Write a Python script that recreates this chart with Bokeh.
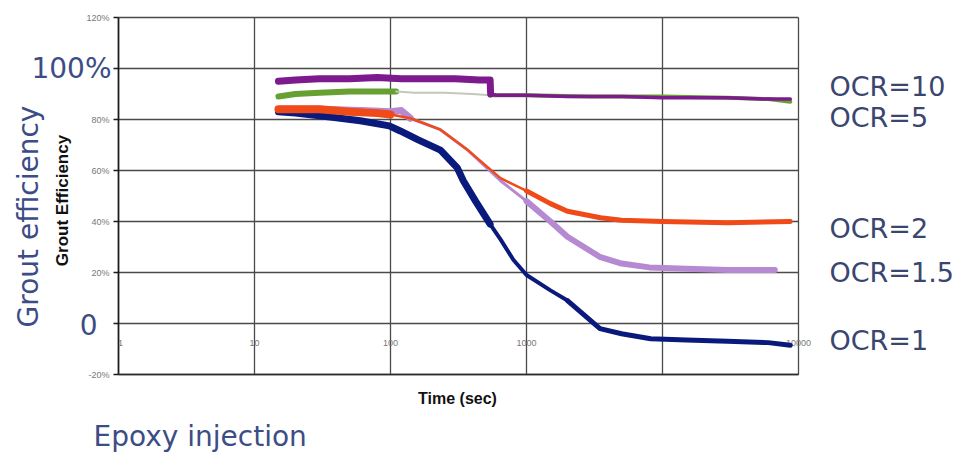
import numpy as np
from bokeh.plotting import figure
from bokeh.models import Label, Range1d
from bokeh.core.properties import value
from bokeh.embed import file_html
from bokeh.resources import INLINE

# ---------------- data ----------------
t_ocr10 = [15, 20, 30, 50, 80, 120, 200, 300, 450, 540, 545, 600, 1000, 2000, 5000, 10000, 30000, 60000, 87000]
e_ocr10 = [95, 95.5, 96, 96, 96.5, 96, 96, 96, 95.5, 95.5, 90, 89.5, 89.5, 89, 89, 88.5, 88.5, 88, 88]

t_ocr5 = [15, 20, 30, 50, 80, 110, 150, 250, 400, 545, 1000, 3000, 10000, 30000, 60000, 87000]
e_ocr5 = [89, 90, 90.5, 91, 91, 91, 90.5, 90.5, 90, 89.5, 89.5, 89, 89, 88.5, 88, 87]

t_ocr2 = [15, 20, 30, 50, 80, 100, 140, 233, 370, 644, 1000, 1500, 2000, 3500, 5000, 10000, 30000, 87000]
e_ocr2 = [84, 84, 84, 83, 82.5, 82, 80.5, 76, 68, 57, 52, 47, 44, 41.5, 40.5, 40, 39.5, 40]

t_ocr15 = [15, 30, 60, 100, 120, 140, 233, 370, 644, 1000, 1500, 2000, 3500, 5000, 8000, 15000, 30000, 67000]
e_ocr15 = [84, 84, 83.5, 83, 83.5, 80.5, 76, 68, 56, 48, 40, 34, 26, 23.5, 22, 21.5, 21, 21]

t_ocr1 = [15, 20, 36, 60, 98, 118, 160, 233, 310, 343, 422, 540, 644, 800, 1000, 1500, 2000, 3470, 5000, 8190, 15000, 30000, 60000, 87000]
e_ocr1 = [83, 82.5, 81, 79.5, 77.5, 75.5, 72, 68, 61, 56, 48, 39, 33, 25, 19, 13, 9, -2, -4, -6, -6.5, -7, -7.5, -8.5]

series_names = ["OCR=10", "OCR=5", "OCR=2", "OCR=1.5", "OCR=1"]

x_grid_values = [1, 10, 100, 1000, 10000, 100000]
x_tick_values = [1, 10, 100, 1000, 100000]
x_tick_labels = ["1", "10", "100", "1000", "10000"]
y_tick_values = [-20, 0, 20, 40, 60, 80, 100, 120]
y_tick_labels = ["-20%", "", "20%", "40%", "60%", "80%", "", "120%"]
X_MIN, X_MAX, Y_MIN, Y_MAX = 1, 100000, -20, 120

# ---------------- geometry of the chart box on the page ----------------
W, H = 960, 460
FL, FT, FR, FB = 118, 17, 798, 374          # chart box edges, page pixels
DEC = (FR - FL) / np.log10(X_MAX / X_MIN)   # pixels per decade
PPU = (FB - FT) / (Y_MAX - Y_MIN)           # pixels per percent

def X(px):
    return X_MIN * 10 ** ((px - FL) / DEC)

def Y(py):
    return Y_MAX - (py - FT) / PPU

# The frame spans the whole canvas, so the texts around the chart are not clipped;
# the ranges are widened so that the chart box lands where it is in the picture.
p = figure(width=W, height=H, x_axis_type="log",
           x_range=Range1d(X(0), X(W)), y_range=Range1d(Y(H), Y(0)),
           x_axis_location=None, y_axis_location=None,
           output_backend="svg", toolbar_location=None,
           min_border=0, min_border_left=0, min_border_right=0,
           min_border_top=0, min_border_bottom=0)
p.background_fill_color = "white"
p.border_fill_color = "white"
p.outline_line_color = None
p.xgrid.visible = False
p.ygrid.visible = False

grid_col = "#4a4a4a"
# vertical grid lines (decades) and horizontal grid lines (every 20%)
p.segment(x0=x_grid_values, y0=[Y_MIN] * len(x_grid_values),
          x1=x_grid_values, y1=[Y_MAX] * len(x_grid_values),
          line_color=grid_col, line_width=1.3)
p.segment(x0=[X_MIN] * len(y_tick_values), y0=y_tick_values,
          x1=[X_MAX] * len(y_tick_values), y1=y_tick_values,
          line_color=grid_col, line_width=1.3)
# value axis line and its outward tick marks
p.segment(x0=[X_MIN], y0=[Y_MIN], x1=[X_MIN], y1=[Y_MAX], line_color="#1a1a1a", line_width=1.6)
p.segment(x0=[X(FL - 5)] * len(y_tick_values), y0=y_tick_values,
          x1=[X_MIN] * len(y_tick_values), y1=y_tick_values,
          line_color="#1a1a1a", line_width=1.3)
p.segment(x0=[X_MIN], y0=[Y_MIN], x1=[X_MAX], y1=[Y_MIN], line_color="#2a2a2a", line_width=1.6)

# tick labels
p.text(x=[X(FL - 9)] * len(y_tick_values), y=y_tick_values, text=y_tick_labels,
       text_align="right", text_baseline="middle", text_font=value("Liberation Sans"),
       text_font_size="9px", text_color="#777777")
p.text(x=x_tick_values, y=[Y(342)] * len(x_tick_values), text=x_tick_labels,
       x_offset=[2, 0, 0, 0, 0],
       text_align="center", text_baseline="middle", text_font=value("Liberation Sans"),
       text_font_size="9px", text_color="#777777")

# ---------------- series ----------------
c10, c5, c2, c15, c1 = "#7d1a8e", "#66a030", "#f04a18", "#b68ad2", "#0a1a7c"

def seg(t, e, a, b, color, w):
    p.line(t[a:b], e[a:b], line_color=color, line_width=w, line_join="round", line_cap="round")

# OCR=1 (navy)
seg(t_ocr1, e_ocr1, 0, 12, c1, 7)
seg(t_ocr1, e_ocr1, 11, 17, c1, 4)
seg(t_ocr1, e_ocr1, 16, 24, c1, 5)
# OCR=5 (green)
seg(t_ocr5, e_ocr5, 0, 6, c5, 6)
seg(t_ocr5, e_ocr5, 5, 10, "#c4c8bc", 2)
seg(t_ocr5, e_ocr5, 9, 16, c5, 4)
# OCR=10 (purple)
seg(t_ocr10, e_ocr10, 0, 11, c10, 7)
seg(t_ocr10, e_ocr10, 10, 19, c10, 3.5)
# OCR=1.5 (lavender)
seg(t_ocr15, e_ocr15, 0, 6, c15, 7)
seg(t_ocr15, e_ocr15, 5, 10, c15, 3)
seg(t_ocr15, e_ocr15, 9, 18, c15, 6)
# OCR=2 (orange)
seg(t_ocr2, e_ocr2, 0, 6, c2, 8)
seg(t_ocr2, e_ocr2, 5, 11, c2, 2.5)
seg(t_ocr2, e_ocr2, 10, 18, c2, 5)

# ---------------- annotation texts ----------------
blue = "#3c4d86"
F = "DejaVu Sans"

def lab(px, py, text, size, color=blue, align="left", angle=0.0, style="normal", font=F):
    p.add_layout(Label(x=X(px), y=Y(py), text=text, text_font=font, text_font_size=size,
                       text_color=color, text_align=align, text_baseline="middle",
                       angle=angle, text_font_style=style))

lab(111, 68, "100%", "28px", align="right")
lab(97, 324, "0", "28px", align="right")
lab(28, 216, "Grout efficiency", "28px", align="center", angle=np.pi / 2)
lab(62, 200, "Grout Efficiency", "17px", color="#111111", align="center", angle=np.pi / 2,
    style="bold", font="Liberation Sans")
lab(457, 398, "Time (sec)", "16px", color="#111111", align="center", style="bold",
    font="Liberation Sans")
lab(93, 436, "Epoxy injection", "28px")

label_y = [86, 117, 228, 272, 340]
for name, py in zip(series_names, label_y):
    lab(829, py, name, "27px", color="#3a4670")

open("out.html", "w").write(file_html(p, INLINE))
